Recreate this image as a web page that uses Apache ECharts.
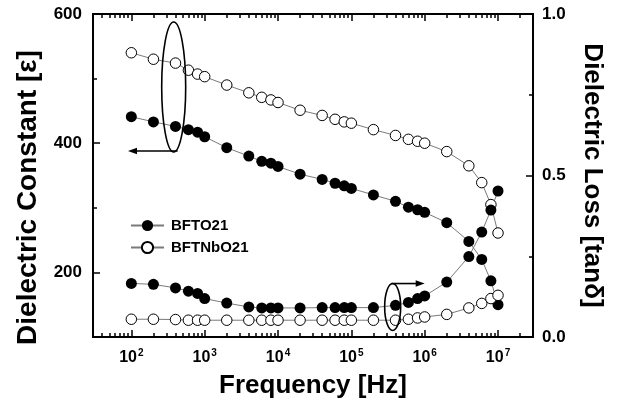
<!DOCTYPE html>
<html><head><meta charset="utf-8">
<script src="https://cdn.jsdelivr.net/npm/echarts@6/dist/echarts.min.js"></script>
<style>html,body{margin:0;padding:0;background:#fff}#c{width:630px;height:408px}</style>
</head><body><div id="c"></div>
<script>
// ---- data ----
const freq = [100,200,400,600,800,1e3,2e3,4e3,6e3,8e3,1e4,2e4,4e4,6e4,8e4,1e5,2e5,4e5,6e5,8e5,1e6,2e6,4e6,6e6,8e6,1e7];
const epsBFTO21   = [441,433,426,421,417,410,393,380,372,369,364,352,344,338,334,330,320,310,301,297,293,277,248,220,187,150];
const epsBFTNbO21 = [540,530,524,513,507,503,490,478,471,467,463,451,443,437,433,431,421,412,406,403,400,387,365,339,305,261];
const lossBFTO21   = [0.166,0.163,0.152,0.142,0.135,0.119,0.105,0.093,0.090,0.090,0.090,0.090,0.091,0.091,0.091,0.091,0.091,0.098,0.107,0.119,0.127,0.170,0.249,0.325,0.393,0.452];
const lossBFTNbO21 = [0.055,0.055,0.054,0.052,0.052,0.052,0.052,0.052,0.052,0.052,0.052,0.052,0.052,0.052,0.052,0.052,0.052,0.052,0.055,0.059,0.062,0.070,0.090,0.104,0.119,0.129];
const seriesNames = ['BFTO21','BFTNbO21'];
const xMajorTicks = [1e2,1e3,1e4,1e5,1e6,1e7];
const xMinorTicks = [40,50,60,70,80,90,200,300,400,500,600,700,800,900,2e3,3e3,4e3,5e3,6e3,7e3,8e3,9e3,2e4,3e4,4e4,5e4,6e4,7e4,8e4,9e4,2e5,3e5,4e5,5e5,6e5,7e5,8e5,9e5,2e6,3e6,4e6,5e6,6e6,7e6,8e6,9e6,2e7];
const epsMajorTicks = [200,400,600];
const epsMinorTicks = [300,500];
const lossMajorTicks = [0,0.5,1.0];
const lossMinorTicks = [0.25,0.75];
// annotation anchors in data coordinates [freq, value]
const annEpsEllipse = [378, 487];
const annEpsArrow = [[428, 388],[90, 388]];
const annLossEllipse = [3.66e5, 0.093];
const annLossArrow = [[3.5e5, 0.1655],[1.0e6, 0.1655]];

const FF = "'Liberation Sans', Arial, sans-serif";
const chart = echarts.init(document.getElementById('c'), null, {renderer:'canvas'});

function xAx(pos, ticks, len, labels, extra) {
  return Object.assign({
    type:'log', logBase:10, min:30, max:3e7, position:pos,
    axisLine:{show:true, onZero:false, lineStyle:{color:'#000', width:2}},
    axisTick:{show:true, inside:true, length:len, customValues:ticks, lineStyle:{color:'#000', width:1.5}},
    axisLabel:{show:false}, splitLine:{show:false}, minorTick:{show:false}
  }, extra||{});
}
function yAx(pos, min, max, ticks, len, extra) {
  return Object.assign({
    type:'value', min:min, max:max, position:pos,
    axisLine:{show:true, onZero:false, lineStyle:{color:'#000', width:2}},
    axisTick:{show:true, inside:true, length:len, customValues:ticks, lineStyle:{color:'#000', width:1.5}},
    axisLabel:{show:false}, splitLine:{show:false}
  }, extra||{});
}

const xAxes = [
  xAx('bottom', xMajorTicks, 7, true, {
    axisLabel:{show:true, customValues:xMajorTicks, margin:11,
      formatter: v => '{b|10}{s|' + Math.round(Math.log10(v)) + '}',
      rich:{b:{fontSize:16, fontWeight:'bold', fontFamily:FF, color:'#000', lineHeight:20},
            s:{fontSize:10, fontWeight:'bold', fontFamily:FF, color:'#000', verticalAlign:'top', lineHeight:10, padding:[0,0,0,1]}}},
    name:'Frequency [Hz]', nameLocation:'middle', nameGap:36,
    nameTextStyle:{fontSize:26, fontWeight:'bold', fontFamily:FF, color:'#000'}
  }),
  xAx('bottom', xMinorTicks, 4),
  xAx('top', xMajorTicks, 7),
  xAx('top', xMinorTicks, 4)
];
const yAxes = [
  yAx('left', 100, 600, epsMajorTicks, 7, {
    axisLabel:{show:true, customValues:epsMajorTicks, margin:11, fontSize:17, fontWeight:'bold', fontFamily:FF, color:'#000'},
    name:'Dielectric Constant [ε]', nameLocation:'middle', nameRotate:90, nameGap:47,
    nameTextStyle:{fontSize:28, fontWeight:'bold', fontFamily:FF, color:'#000', padding:[0,44,0,0]}
  }),
  yAx('left', 100, 600, epsMinorTicks, 4),
  yAx('right', 0, 1, lossMajorTicks, 7, {
    axisLabel:{show:true, customValues:lossMajorTicks, margin:9, fontSize:17, fontWeight:'bold', fontFamily:FF, color:'#000',
      formatter: v => v.toFixed(1)},
    name:'Dielectric Loss [tanδ]', nameLocation:'middle', nameRotate:-90, nameGap:46,
    nameTextStyle:{fontSize:26, fontWeight:'bold', fontFamily:FF, color:'#000'}
  }),
  yAx('right', 0, 1, lossMinorTicks, 4)
];

function mk(name, vals, yIdx, filled) {
  return {
    name:name, type:'line', xAxisIndex:0, yAxisIndex:yIdx,
    data: freq.map((f,i)=>[f, vals[i]]),
    symbol:'circle', symbolSize: filled ? 11 : 10.5, showSymbol:true,
    lineStyle:{color:'#7a7a7a', width:1},
    itemStyle: filled ? {color:'#000'} : {color:'#fff', borderColor:'#000', borderWidth:1},
    emphasis:{disabled:true}, silent:true
  };
}

chart.setOption({
  animation:false,
  backgroundColor:'#fff',
  grid:{left:93, right:97, top:14, bottom:71, containLabel:false, outerBoundsMode:'none'},
  xAxis:xAxes, yAxis:yAxes,
  legend:{orient:'vertical', left:125, top:213, itemWidth:33, itemHeight:14, itemGap:7,
    data:seriesNames, selectedMode:false,
    textStyle:{fontSize:15, fontWeight:'bold', fontFamily:FF, color:'#000', padding:[0,0,0,2]}},
  series:[
    mk(seriesNames[0], epsBFTO21, 0, true),
    mk(seriesNames[1], epsBFTNbO21, 0, false),
    mk(seriesNames[0], lossBFTO21, 2, true),
    mk(seriesNames[1], lossBFTNbO21, 2, false)
  ]
});

// annotations placed through the axes' scales
const pe = d => chart.convertToPixel({xAxisIndex:0, yAxisIndex:0}, d);
const pl = d => chart.convertToPixel({xAxisIndex:0, yAxisIndex:2}, d);
const e1 = pe(annEpsEllipse), a1s = pe(annEpsArrow[0]), a1e = pe(annEpsArrow[1]);
const e2 = pl(annLossEllipse), a2s = pl(annLossArrow[0]), a2e = pl(annLossArrow[1]);
const stroke = {stroke:'#000', lineWidth:1.6, fill:null};
function arrowHead(p, dir) {
  const L = 9, W = 3.2;
  return {type:'polygon', shape:{points:[[p[0],p[1]],[p[0]-dir*L,p[1]-W],[p[0]-dir*L,p[1]+W]]}, style:{fill:'#000'}, silent:true, z:100};
}
chart.setOption({graphic:[
  {type:'ellipse', shape:{cx:e1[0], cy:e1[1], rx:12, ry:65}, style:stroke, silent:true, z:100},
  {type:'line', shape:{x1:a1s[0], y1:a1s[1], x2:a1e[0]+6, y2:a1e[1]}, style:{stroke:'#000', lineWidth:1.6}, silent:true, z:100},
  arrowHead(a1e, -1),
  {type:'ellipse', shape:{cx:e2[0], cy:e2[1], rx:8, ry:23.5}, style:stroke, silent:true, z:100},
  {type:'line', shape:{x1:a2s[0], y1:a2s[1], x2:a2e[0]-6, y2:a2e[1]}, style:{stroke:'#000', lineWidth:1.6}, silent:true, z:100},
  arrowHead(a2e, 1)
]});
</script></body></html>
